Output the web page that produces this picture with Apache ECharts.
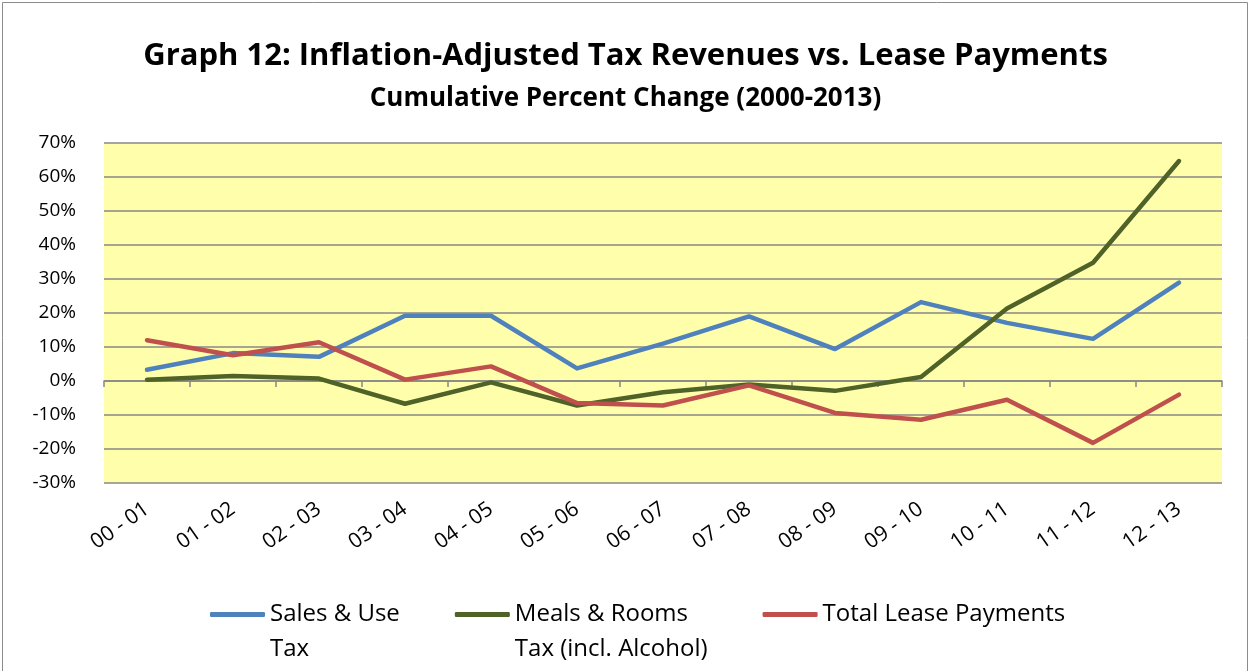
<!DOCTYPE html>
<html>
<head>
<meta charset="utf-8">
<script src="https://cdn.jsdelivr.net/npm/echarts@6/dist/echarts.min.js"></script>
<style>
  html, body { margin: 0; padding: 0; background: #fff; }
  #chart { width: 1251px; height: 671px; }
</style>
</head>
<body>
<div id="chart"></div>
<script>
const categories = ['00 - 01', '01 - 02', '02 - 03', '03 - 04', '04 - 05', '05 - 06', '06 - 07',
  '07 - 08', '08 - 09', '09 - 10', '10 - 11', '11 - 12', '12 - 13']

// cumulative percent change
const salesUse = [3.3, 8.2, 7.1, 19.2, 19.2, 3.7, 11.0, 19.0, 9.4, 23.2, 17.1, 12.4, 28.9]
const mealsRooms = [0.4, 1.5, 0.7, -6.7, -0.4, -7.2, -3.3, -1.0, -2.9, 1.2, 21.3, 34.8, 64.7]
const leasePayments = [12.0, 7.6, 11.4, 0.4, 4.3, -6.5, -7.2, -1.3, -9.4, -11.4, -5.5, -18.2, -4.0]

const yTicks = { min: -30, max: 70, step: 10 }

const font = '"Open Sans", Lato, sans-serif'
const gridColor = '#878787'

const chart = echarts.init(document.getElementById('chart'))

function lineSeries(name, data, color) {
  return {
    name: name,
    type: 'line',
    data: data,
    xAxisIndex: 0,
    symbol: 'none',
    lineStyle: { color: color, width: 4.5, cap: 'round', join: 'round' },
    itemStyle: { color: color },
    emphasis: { disabled: true }
  }
}

const option = {
  animation: false,
  textStyle: { fontFamily: font },
  title: [
    {
      text: 'Graph 12: Inflation-Adjusted Tax Revenues vs. Lease Payments',
      left: 'center',
      top: 36,
      textStyle: { fontSize: 31, fontWeight: 'bold', color: '#000', fontFamily: font }
    },
    {
      text: 'Cumulative Percent Change (2000-2013)',
      left: 'center',
      top: 81,
      textStyle: { fontSize: 26, fontWeight: 'bold', color: '#000', fontFamily: font }
    }
  ],
  graphic: [{
    type: 'rect',
    shape: { x: 2.5, y: 2.5, width: 1245, height: 680 },
    style: { fill: 'none', stroke: '#8c8c8c', lineWidth: 1 },
    silent: true,
    z: -10
  }],
  grid: {
    left: 104, right: 29, top: 143, bottom: 188,
    show: true,
    backgroundColor: '#FFFFAB',
    borderWidth: 0
  },
  legend: {
    left: 205,
    top: 557,
    itemGap: 55,
    itemWidth: 55,
    itemHeight: 5,
    icon: 'roundRect',
    // pad every name to three lines so the icon sits on the first text line
    formatter: name => ' \n' + name + (name.indexOf('\n') < 0 ? '\n ' : ''),
    textStyle: { fontSize: 24, color: '#000', lineHeight: 35, fontFamily: font },
    data: ['Sales & Use\nTax', 'Meals & Rooms\nTax (incl. Alcohol)', 'Total Lease Payments']
  },
  xAxis: [
    {
      // zero line with the tick marks
      type: 'category',
      data: categories,
      position: 'top',
      boundaryGap: true,
      axisLine: { onZero: true, lineStyle: { color: gridColor, width: 1.5 } },
      axisTick: { show: true, inside: true, length: 6, lineStyle: { color: gridColor, width: 1.5 } },
      axisLabel: { show: false },
      splitLine: { show: false }
    },
    {
      type: 'category',
      data: categories,
      position: 'bottom',
      boundaryGap: true,
      axisLine: { show: false, onZero: false },
      axisTick: { show: false },
      axisLabel: {
        rotate: 35,
        fontSize: 21,
        color: '#000',
        margin: 24,
        interval: 0,
        fontFamily: font
      },
      splitLine: { show: false }
    }
  ],
  yAxis: {
    type: 'value',
    min: yTicks.min,
    max: yTicks.max,
    interval: yTicks.step,
    axisLine: { show: false },
    axisTick: { show: false },
    axisLabel: {
      formatter: v => v + '%',
      fontSize: 19,
      color: '#000',
      margin: 28,
      fontFamily: font
    },
    splitLine: { lineStyle: { color: gridColor, width: 1.5 } }
  },
  series: [
    lineSeries('Sales & Use\nTax', salesUse, '#4F81BD'),
    lineSeries('Meals & Rooms\nTax (incl. Alcohol)', mealsRooms, '#4F6228'),
    lineSeries('Total Lease Payments', leasePayments, '#C0504D')
  ]
}

chart.setOption(option)
</script>
</body>
</html>
